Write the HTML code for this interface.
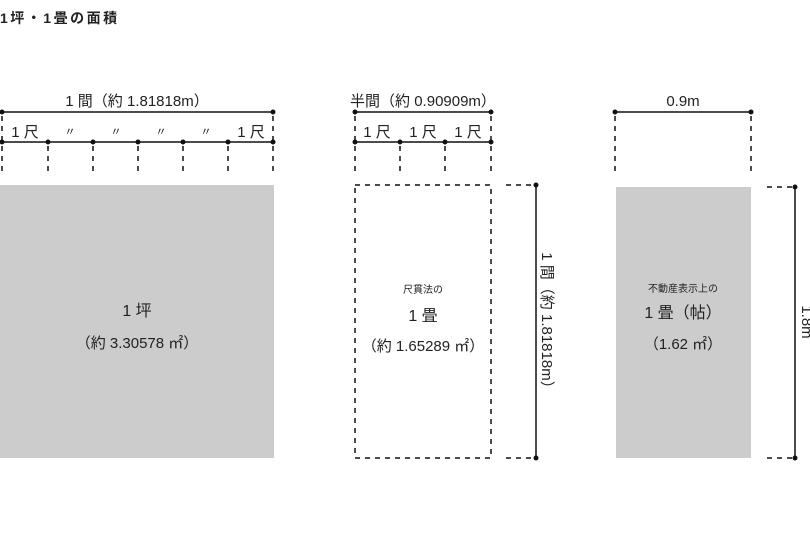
<!DOCTYPE html>
<html><head><meta charset="utf-8"><style>
html,body{margin:0;padding:0;background:#fff;}
svg{display:block;}
text{font-family:"Liberation Sans","Noto Sans CJK JP",sans-serif;fill:#222;}
</style></head><body>
<svg width="810" height="540" viewBox="0 0 810 540" xmlns="http://www.w3.org/2000/svg">
<text x="0" y="23" font-size="14" font-weight="bold" letter-spacing="2.5">1坪・1畳の面積</text>

<!-- Left -->
<g stroke="#111" stroke-width="1.5" fill="none">
<line x1="2" y1="112" x2="273" y2="112"/>
<line x1="2" y1="142" x2="273" y2="142"/>
<g stroke-dasharray="5,5">
<line x1="2" y1="116" x2="2" y2="142"/><line x1="273" y1="116" x2="273" y2="142"/>
<line x1="2" y1="146" x2="2" y2="175"/><line x1="48" y1="146" x2="48" y2="175"/>
<line x1="93" y1="146" x2="93" y2="175"/><line x1="138" y1="146" x2="138" y2="175"/>
<line x1="183" y1="146" x2="183" y2="175"/><line x1="228" y1="146" x2="228" y2="175"/>
<line x1="273" y1="146" x2="273" y2="175"/>
</g></g>
<g fill="#111">
<circle cx="2" cy="112" r="2.5"/><circle cx="273" cy="112" r="2.5"/>
<circle cx="2" cy="142" r="2.5"/><circle cx="48" cy="142" r="2.5"/><circle cx="93" cy="142" r="2.5"/><circle cx="138" cy="142" r="2.5"/><circle cx="183" cy="142" r="2.5"/><circle cx="228" cy="142" r="2.5"/><circle cx="273" cy="142" r="2.5"/>
</g>
<text x="137" y="106" font-size="15" text-anchor="middle">1 間（約 1.81818m）</text>
<text x="25" y="137" font-size="15" text-anchor="middle">1 尺</text>
<text x="70" y="135" font-size="11" text-anchor="middle">〃</text>
<text x="116" y="135" font-size="11" text-anchor="middle">〃</text>
<text x="161" y="135" font-size="11" text-anchor="middle">〃</text>
<text x="206" y="135" font-size="11" text-anchor="middle">〃</text>
<text x="251" y="137" font-size="15" text-anchor="middle">1 尺</text>
<rect x="0" y="185" width="274" height="273" fill="#cccccc"/>
<text x="137" y="316" font-size="16" text-anchor="middle">1 坪</text>
<text x="137" y="348" font-size="15" text-anchor="middle">（約 3.30578 ㎡）</text>

<!-- Middle -->
<g stroke="#111" stroke-width="1.5" fill="none">
<line x1="355" y1="112" x2="491" y2="112"/>
<line x1="355" y1="142" x2="491" y2="142"/>
<line x1="536" y1="185" x2="536" y2="458"/>
<g stroke-dasharray="5,5">
<line x1="355" y1="116" x2="355" y2="142"/><line x1="491" y1="116" x2="491" y2="142"/>
<line x1="355" y1="146" x2="355" y2="175"/><line x1="400" y1="146" x2="400" y2="175"/>
<line x1="445" y1="146" x2="445" y2="175"/><line x1="491" y1="146" x2="491" y2="175"/>
<rect x="355" y="185" width="136" height="273"/>
<line x1="506" y1="185" x2="534" y2="185"/><line x1="506" y1="458" x2="534" y2="458"/>
</g></g>
<g fill="#111">
<circle cx="355" cy="112" r="2.5"/><circle cx="491" cy="112" r="2.5"/>
<circle cx="355" cy="142" r="2.5"/><circle cx="400" cy="142" r="2.5"/><circle cx="445" cy="142" r="2.5"/><circle cx="491" cy="142" r="2.5"/>
<circle cx="536" cy="185" r="2.5"/><circle cx="536" cy="458" r="2.5"/>
</g>
<text x="423" y="106" font-size="15" text-anchor="middle">半間（約 0.90909m）</text>
<text x="377" y="137" font-size="15" text-anchor="middle">1 尺</text>
<text x="423" y="137" font-size="15" text-anchor="middle">1 尺</text>
<text x="468" y="137" font-size="15" text-anchor="middle">1 尺</text>
<text x="423" y="293" font-size="10" text-anchor="middle">尺貫法の</text>
<text x="423" y="321" font-size="16" text-anchor="middle">1 畳</text>
<text x="423" y="351" font-size="15" text-anchor="middle">（約 1.65289 ㎡）</text>
<text transform="translate(542,324) rotate(90)" font-size="15" text-anchor="middle">1 間（約 1.81818m）</text>

<!-- Right -->
<g stroke="#111" stroke-width="1.5" fill="none">
<line x1="615" y1="112" x2="751" y2="112"/>
<line x1="795" y1="187" x2="795" y2="458"/>
<g stroke-dasharray="5,5">
<line x1="615" y1="116" x2="615" y2="175"/><line x1="751" y1="116" x2="751" y2="175"/>
<line x1="767" y1="187" x2="793" y2="187"/><line x1="767" y1="458" x2="793" y2="458"/>
</g></g>
<g fill="#111">
<circle cx="615" cy="112" r="2.5"/><circle cx="751" cy="112" r="2.5"/>
<circle cx="795" cy="187" r="2.5"/><circle cx="795" cy="458" r="2.5"/>
</g>
<text x="683" y="106" font-size="15" text-anchor="middle">0.9m</text>
<rect x="616" y="187" width="135" height="271" fill="#cccccc"/>
<text x="683" y="292" font-size="10" text-anchor="middle">不動産表示上の</text>
<text x="683" y="318" font-size="16" text-anchor="middle">1 畳（帖）</text>
<text x="683" y="349" font-size="15" text-anchor="middle">（1.62 ㎡）</text>
<text transform="translate(802,322) rotate(90)" font-size="15" text-anchor="middle">1.8m</text>
</svg>
</body></html>
